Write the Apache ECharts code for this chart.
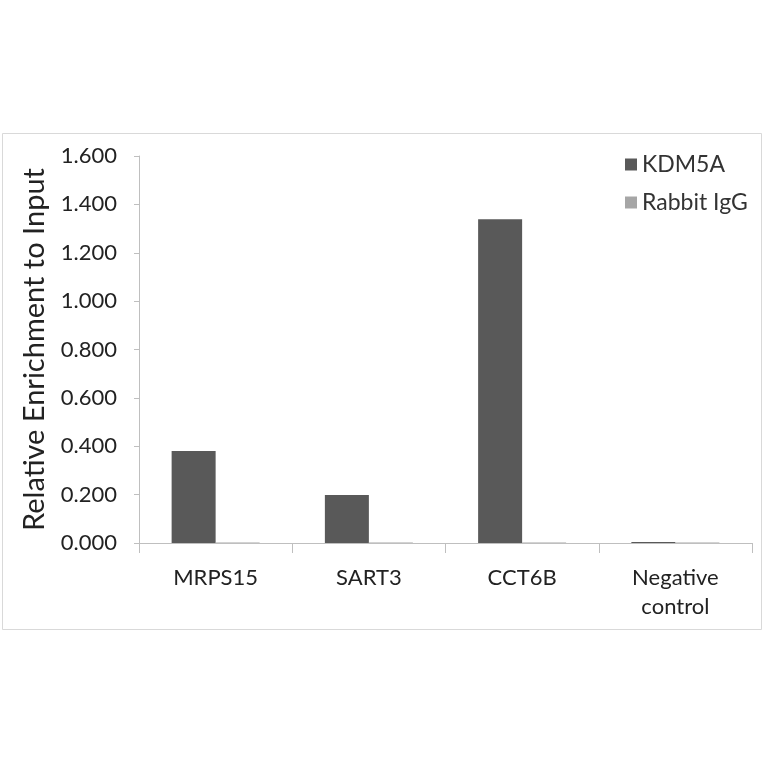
<!DOCTYPE html>
<html>
<head>
<meta charset="utf-8">
<script src="https://cdn.jsdelivr.net/npm/echarts@6/dist/echarts.min.js"></script>
<style>html,body{margin:0;padding:0;background:#fff}#c{width:764px;height:764px}</style>
</head>
<body>
<div id="c"></div>
<script>
const categories = ['MRPS15', 'SART3', 'CCT6B', 'Negative\ncontrol'];
const kdm5a = [0.380, 0.198, 1.339, 0.004];
const rabbitIgG = [0.002, 0.002, 0.002, 0.002];
const yTicks = { min: 0, max: 1.6, interval: 0.2 };
const FONT = 'Lato';

const chart = echarts.init(document.getElementById('c'));
chart.setOption({
  backgroundColor: '#fff',
  animation: false,
  textStyle: { fontFamily: FONT },
  graphic: [{
    type: 'rect', shape: { x: 2.5, y: 133.5, width: 759, height: 496 },
    style: { fill: 'none', stroke: '#d9d9d9', lineWidth: 1 }, silent: true
  }],
  grid: { left: 139, right: 12, top: 156, bottom: 221, containLabel: false },
  legend: {
    orient: 'vertical', left: 620, top: 148, itemGap: 15,
    itemWidth: 12, itemHeight: 12, icon: 'rect',
    textStyle: { fontFamily: FONT, fontSize: 23, color: '#333' },
    data: ['KDM5A', 'Rabbit IgG']
  },
  xAxis: {
    type: 'category', data: categories,
    axisLine: { lineStyle: { color: '#bfbfbf' } },
    axisTick: { show: true, length: 10, lineStyle: { color: '#bfbfbf' } },
    axisLabel: { fontFamily: FONT, fontSize: 22, color: '#222', margin: 20, lineHeight: 29 }
  },
  yAxis: {
    type: 'value', min: yTicks.min, max: yTicks.max, interval: yTicks.interval,
    name: 'Relative Enrichment to Input', nameLocation: 'middle', nameGap: 90,
    nameTextStyle: { fontFamily: FONT, fontSize: 29, color: '#222' },
    axisLine: { show: true, lineStyle: { color: '#bfbfbf' } },
    axisTick: { show: true, length: 5, lineStyle: { color: '#bfbfbf' } },
    splitLine: { show: false },
    axisLabel: { fontFamily: FONT, fontSize: 22, color: '#222', margin: 22,
      formatter: v => v.toFixed(3) }
  },
  series: [
    { name: 'KDM5A', type: 'bar', data: kdm5a, barWidth: 44, barGap: '0%',
      itemStyle: { color: '#595959' } },
    { name: 'Rabbit IgG', type: 'bar', data: rabbitIgG, barWidth: 44, barGap: '0%',
      itemStyle: { color: '#a6a6a6' } }
  ]
});
</script>
</body>
</html>
